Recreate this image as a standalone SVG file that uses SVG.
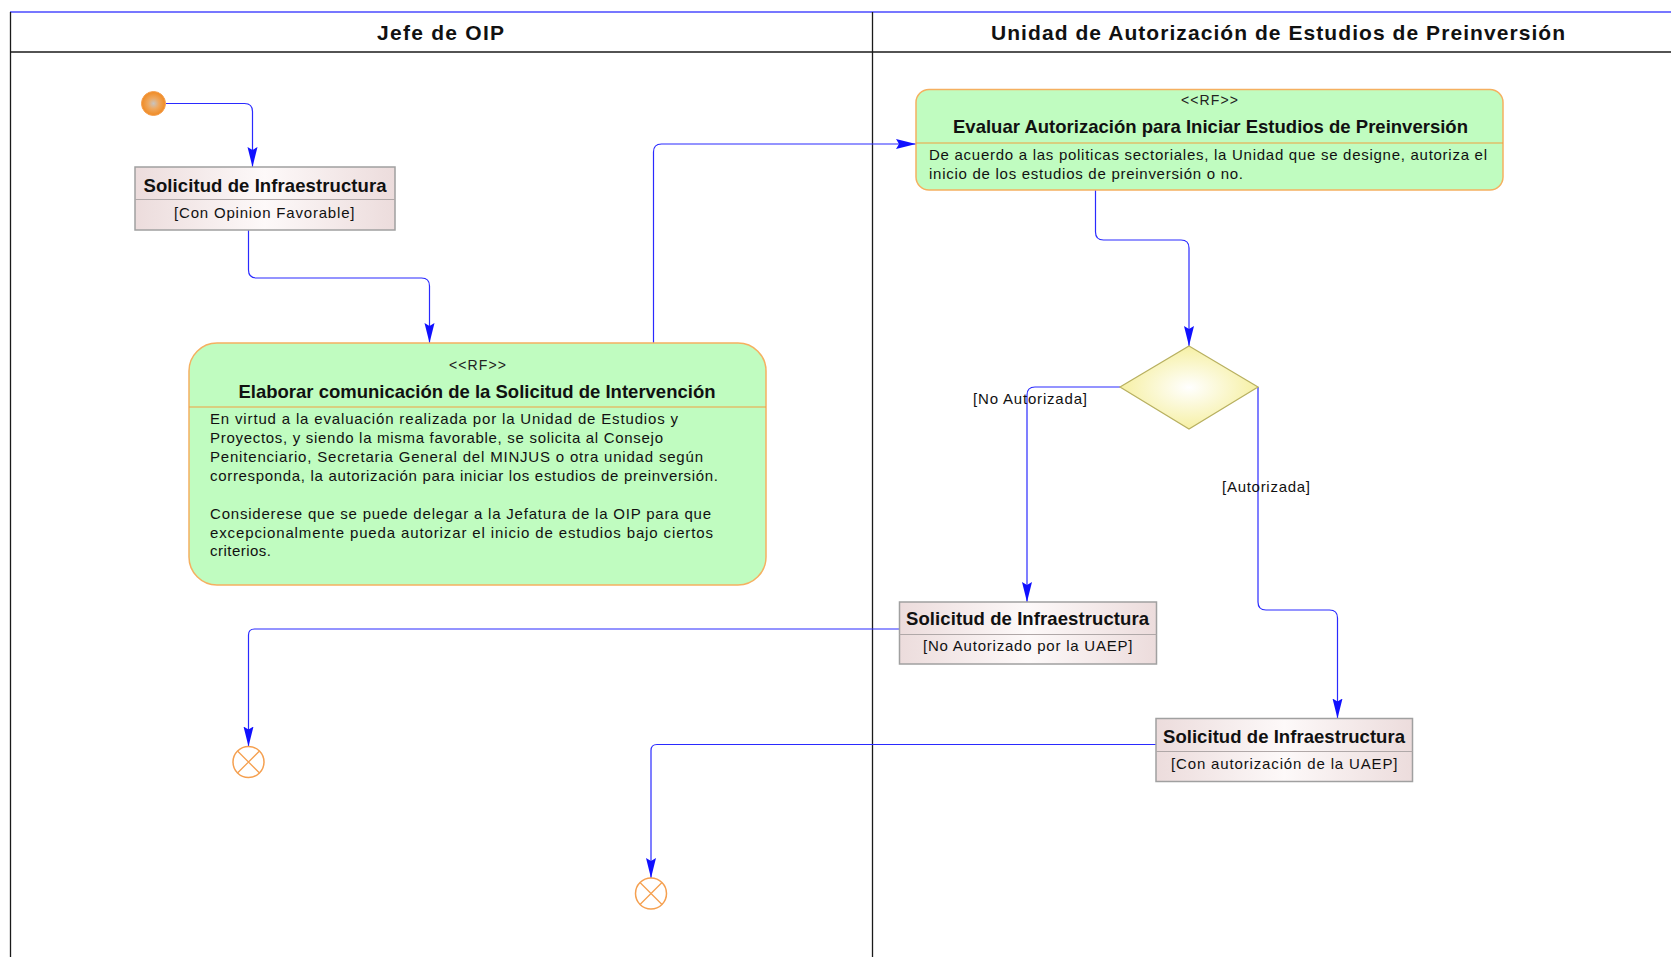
<svg xmlns="http://www.w3.org/2000/svg" width="1671" height="957" viewBox="0 0 1671 957">
  <style>
    text { font-family: "Liberation Sans", Arial, sans-serif; fill: #111; }
    .lane-title { font-size: 21px; font-weight: bold; text-anchor: middle; }
    .obj-title { font-size: 18.5px; font-weight: bold; text-anchor: middle; }
    .obj-state { font-size: 15px; text-anchor: middle; letter-spacing: 0.5px; }
    .stereo { font-size: 14px; text-anchor: middle; fill: #222; }
    .act-title { font-size: 18.5px; font-weight: bold; text-anchor: middle; }
    .body { font-size: 15px; }
    .guard { font-size: 15px; }
    .lane-line { stroke: #1a1a1a; stroke-width: 1.3; fill: none; }
    .obj { fill: url(#objFill); stroke: #a0a0a0; stroke-width: 1.5; }
    .obj-div { stroke: #b0a8a8; stroke-width: 1.2; }
    .act { fill: #c0fcc0; stroke: #f5b060; stroke-width: 1.5; }
    .act-div { stroke: #f0a040; stroke-width: 1.2; }
    .flow { fill: none; stroke: #2a2aff; stroke-width: 1.2; marker-end: url(#arrow); }
    .final { fill: #ffffff; stroke: #f5a050; stroke-width: 1.5; }
  </style>
  <defs>
    <linearGradient id="objFill" x1="0" y1="0" x2="1" y2="0">
      <stop offset="0" stop-color="#ecdcdc"/>
      <stop offset="0.5" stop-color="#fdf9f9"/>
      <stop offset="1" stop-color="#ecdcdc"/>
    </linearGradient>
    <radialGradient id="startFill" cx="0.5" cy="0.5" r="0.5">
      <stop offset="0" stop-color="#c8c4c0"/>
      <stop offset="0.45" stop-color="#eea860"/>
      <stop offset="1" stop-color="#f08a22"/>
    </radialGradient>
    <radialGradient id="decisionFill" cx="0.5" cy="0.5" r="0.5">
      <stop offset="0" stop-color="#ffffff"/>
      <stop offset="1" stop-color="#f6f0a4"/>
    </radialGradient>
    <marker id="arrow" viewBox="0 0 20 10" refX="20" refY="5" markerWidth="20" markerHeight="11" markerUnits="userSpaceOnUse" orient="auto">
      <path d="M0,0 L20,5 L0,10 L3,5 Z" fill="#1010ff"/>
    </marker>
  </defs>

  <rect x="0" y="0" width="1671" height="957" fill="#ffffff"/>

  <!-- swimlanes -->
  <g id="lanes">
    <line x1="10" y1="12" x2="1671" y2="12" stroke="#4a4aff" stroke-width="1.3"/>
    <line class="lane-line" x1="10.5" y1="12" x2="10.5" y2="957"/>
    <line class="lane-line" x1="10" y1="52" x2="1671" y2="52"/>
    <line class="lane-line" x1="872.5" y1="12" x2="872.5" y2="957"/>
    <text class="lane-title" x="440.5" y="40" textLength="127" lengthAdjust="spacing">Jefe de OIP</text>
    <text class="lane-title" x="1278" y="40" textLength="574" lengthAdjust="spacing">Unidad de Autorización de Estudios de Preinversión</text>
  </g>

  <!-- connectors -->
  <g id="connectors">
    <path class="flow" d="M166,103.5 H244.5 Q252.5,103.5 252.5,111.5 V167"/>
    <path class="flow" d="M248.5,230 V270 Q248.5,278 256.5,278 H421.5 Q429.5,278 429.5,286 V343"/>
    <path class="flow" d="M653.5,343 V152 Q653.5,144 661.5,144 H916"/>
    <path class="flow" d="M1095.5,190 V232 Q1095.5,240 1103.5,240 H1181 Q1189,240 1189,248 V346"/>
    <path class="flow" d="M1120,387 H1035 Q1027,387 1027,395 V602"/>
    <path class="flow" d="M1258,387 V602 Q1258,610 1266,610 H1329.5 Q1337.5,610 1337.5,618 V718.5"/>
    <path class="flow" d="M899.5,629 H254.5 Q248.5,629 248.5,635 V746.5"/>
    <path class="flow" d="M1156,744.5 H657 Q651,744.5 651,750.5 V878"/>
    <text class="guard" x="973" y="404" textLength="114" lengthAdjust="spacing">[No Autorizada]</text>
    <text class="guard" x="1222" y="492" textLength="88" lengthAdjust="spacing">[Autorizada]</text>
  </g>

  <!-- initial node -->
  <g id="start">
    <circle cx="153.5" cy="103.5" r="12" fill="url(#startFill)" stroke="#f5a050" stroke-width="1"/>
  </g>

  <!-- object: Solicitud (Con Opinion Favorable) -->
  <g id="obj-favorable">
    <rect class="obj" x="135" y="167" width="260" height="63"/>
    <line class="obj-div" x1="135" y1="199.5" x2="395" y2="199.5"/>
    <text class="obj-title" x="265" y="192" textLength="243" lengthAdjust="spacing">Solicitud de Infraestructura</text>
    <text class="obj-state" x="264.5" y="217.5" textLength="181" lengthAdjust="spacing">[Con Opinion Favorable]</text>
  </g>

  <!-- activity: Elaborar comunicación -->
  <g id="act-elaborar">
    <rect class="act" x="189" y="343" width="577" height="242" rx="28" ry="28"/>
    <line class="act-div" x1="189" y1="407" x2="766" y2="407"/>
    <text class="stereo" x="477.5" y="370" textLength="57" lengthAdjust="spacing">&lt;&lt;RF&gt;&gt;</text>
    <text class="act-title" x="477" y="397.5" textLength="477" lengthAdjust="spacing">Elaborar comunicación de la Solicitud de Intervención</text>
    <text class="body" x="210" y="424" textLength="468" lengthAdjust="spacing">En virtud a la evaluación realizada por la Unidad de Estudios y</text>
    <text class="body" x="210" y="443" textLength="453" lengthAdjust="spacing">Proyectos, y siendo la misma favorable, se solicita al Consejo</text>
    <text class="body" x="210" y="462" textLength="493" lengthAdjust="spacing">Penitenciario, Secretaria General del MINJUS o otra unidad según</text>
    <text class="body" x="210" y="480.5" textLength="508" lengthAdjust="spacing">corresponda, la autorización para iniciar los estudios de preinversión.</text>
    <text class="body" x="210" y="519" textLength="501" lengthAdjust="spacing">Considerese que se puede delegar a la Jefatura de la OIP para que</text>
    <text class="body" x="210" y="537.5" textLength="503" lengthAdjust="spacing">excepcionalmente pueda autorizar el inicio de estudios bajo ciertos</text>
    <text class="body" x="210" y="556" textLength="61" lengthAdjust="spacing">criterios.</text>
  </g>

  <!-- activity: Evaluar Autorización -->
  <g id="act-evaluar">
    <rect class="act" x="916" y="89.5" width="587" height="100.5" rx="13" ry="13"/>
    <line class="act-div" x1="916" y1="143" x2="1503" y2="143"/>
    <text class="stereo" x="1209.5" y="105" textLength="57" lengthAdjust="spacing">&lt;&lt;RF&gt;&gt;</text>
    <text class="act-title" x="1210.5" y="133" textLength="515" lengthAdjust="spacing">Evaluar Autorización para Iniciar Estudios de Preinversión</text>
    <text class="body" x="929" y="160" textLength="558" lengthAdjust="spacing">De acuerdo a las politicas sectoriales, la Unidad que se designe, autoriza el</text>
    <text class="body" x="929" y="179" textLength="314" lengthAdjust="spacing">inicio de los estudios de preinversión o no.</text>
  </g>

  <!-- decision -->
  <g id="decision">
    <polygon points="1189,346 1258,387 1189,429 1120,387" fill="url(#decisionFill)" stroke="#b8b060" stroke-width="1.2"/>
  </g>

  <!-- object: Solicitud (No Autorizado) -->
  <g id="obj-no-autorizado">
    <rect class="obj" x="899.5" y="602" width="257" height="62"/>
    <line class="obj-div" x1="899.5" y1="634.5" x2="1156.5" y2="634.5"/>
    <text class="obj-title" x="1027.5" y="624.5" textLength="243" lengthAdjust="spacing">Solicitud de Infraestructura</text>
    <text class="obj-state" x="1028" y="651" textLength="210" lengthAdjust="spacing">[No Autorizado por la UAEP]</text>
  </g>

  <!-- object: Solicitud (Con autorización) -->
  <g id="obj-autorizado">
    <rect class="obj" x="1156" y="718.5" width="256.5" height="63"/>
    <line class="obj-div" x1="1156" y1="751.5" x2="1412.5" y2="751.5"/>
    <text class="obj-title" x="1284" y="742.5" textLength="242" lengthAdjust="spacing">Solicitud de Infraestructura</text>
    <text class="obj-state" x="1284.5" y="769" textLength="227" lengthAdjust="spacing">[Con autorización de la UAEP]</text>
  </g>

  <!-- flow final nodes -->
  <g id="end-1">
    <circle class="final" cx="248.5" cy="762" r="15.5"/>
    <path d="M237.5,751 L259.5,773 M259.5,751 L237.5,773" stroke="#f5a050" stroke-width="1.3"/>
  </g>
  <g id="end-2">
    <circle class="final" cx="651" cy="893.5" r="15.5"/>
    <path d="M640,882.5 L662,904.5 M662,882.5 L640,904.5" stroke="#f5a050" stroke-width="1.3"/>
  </g>
</svg>
